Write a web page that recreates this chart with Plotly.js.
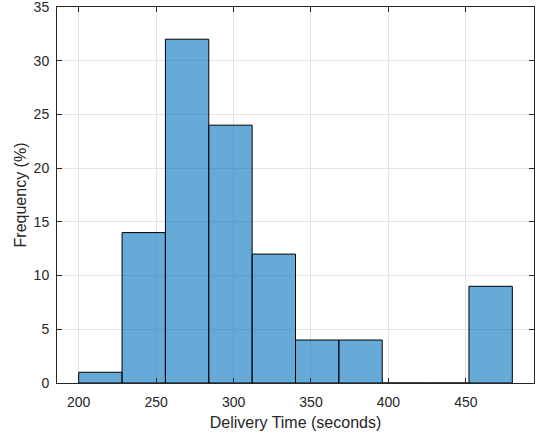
<!DOCTYPE html>
<html>
<head>
<meta charset="utf-8">
<script src="https://cdn.plot.ly/plotly-3.0.1.min.js"></script>
<style>html,body{margin:0;padding:0;background:#fff;}#chart{width:542px;height:435px;}</style>
</head>
<body>
<div id="chart"></div>
<script>
var binEdges = [200, 228, 256, 284, 312, 340, 368, 396, 424, 452, 480];
var frequencies = [1, 14, 32, 24, 12, 4, 4, 0, 0, 9];
var xTicks = [200, 250, 300, 350, 400, 450];
var yTicks = [0, 5, 10, 15, 20, 25, 30, 35];

var centers = [], widths = [];
for (var i = 0; i < frequencies.length; i++) {
  centers.push((binEdges[i] + binEdges[i + 1]) / 2);
  widths.push(binEdges[i + 1] - binEdges[i]);
}
var pad = 0.05 * (binEdges[binEdges.length - 1] - binEdges[0]);

var axisCommon = {
  showline: true, linecolor: '#262626', linewidth: 1, mirror: 'ticks',
  ticks: 'inside', ticklen: 5, tickcolor: '#262626', tickwidth: 1,
  showgrid: true, gridcolor: '#e3e3e3', gridwidth: 1, zeroline: false,
  ticklabeloverflow: 'allow',
  tickfont: {family: 'Liberation Sans, Arial, sans-serif', size: 14, color: '#262626'}
};

var trace = {
  type: 'bar', x: centers, y: frequencies, width: widths,
  marker: {color: 'rgba(0,114,189,0.6)', line: {color: '#000', width: 1}},
  hoverinfo: 'x+y', cliponaxis: false
};

var layout = {
  width: 542, height: 435,
  margin: {l: 57, r: 8, t: 7, b: 52},
  paper_bgcolor: '#fff', plot_bgcolor: '#fff',
  showlegend: false, bargap: 0,
  xaxis: Object.assign({}, axisCommon, {
    range: [binEdges[0] - pad, binEdges[binEdges.length - 1] + pad],
    tickvals: xTicks, ticktext: xTicks.map(String),
    ticklabelstandoff: 6,
    title: {text: 'Delivery Time (seconds)', standoff: 8,
      font: {family: 'Liberation Sans, Arial, sans-serif', size: 16, color: '#262626'}}
  }),
  yaxis: Object.assign({}, axisCommon, {
    range: [0, 35],
    tickvals: yTicks, ticktext: yTicks.map(String),
    ticklabelstandoff: 4,
    title: {text: 'Frequency (%)', standoff: 3,
      font: {family: 'Liberation Sans, Arial, sans-serif', size: 16, color: '#262626'}}
  })
};

Plotly.newPlot('chart', [trace], layout, {displayModeBar: false, staticPlot: true});
</script>
</body>
</html>
